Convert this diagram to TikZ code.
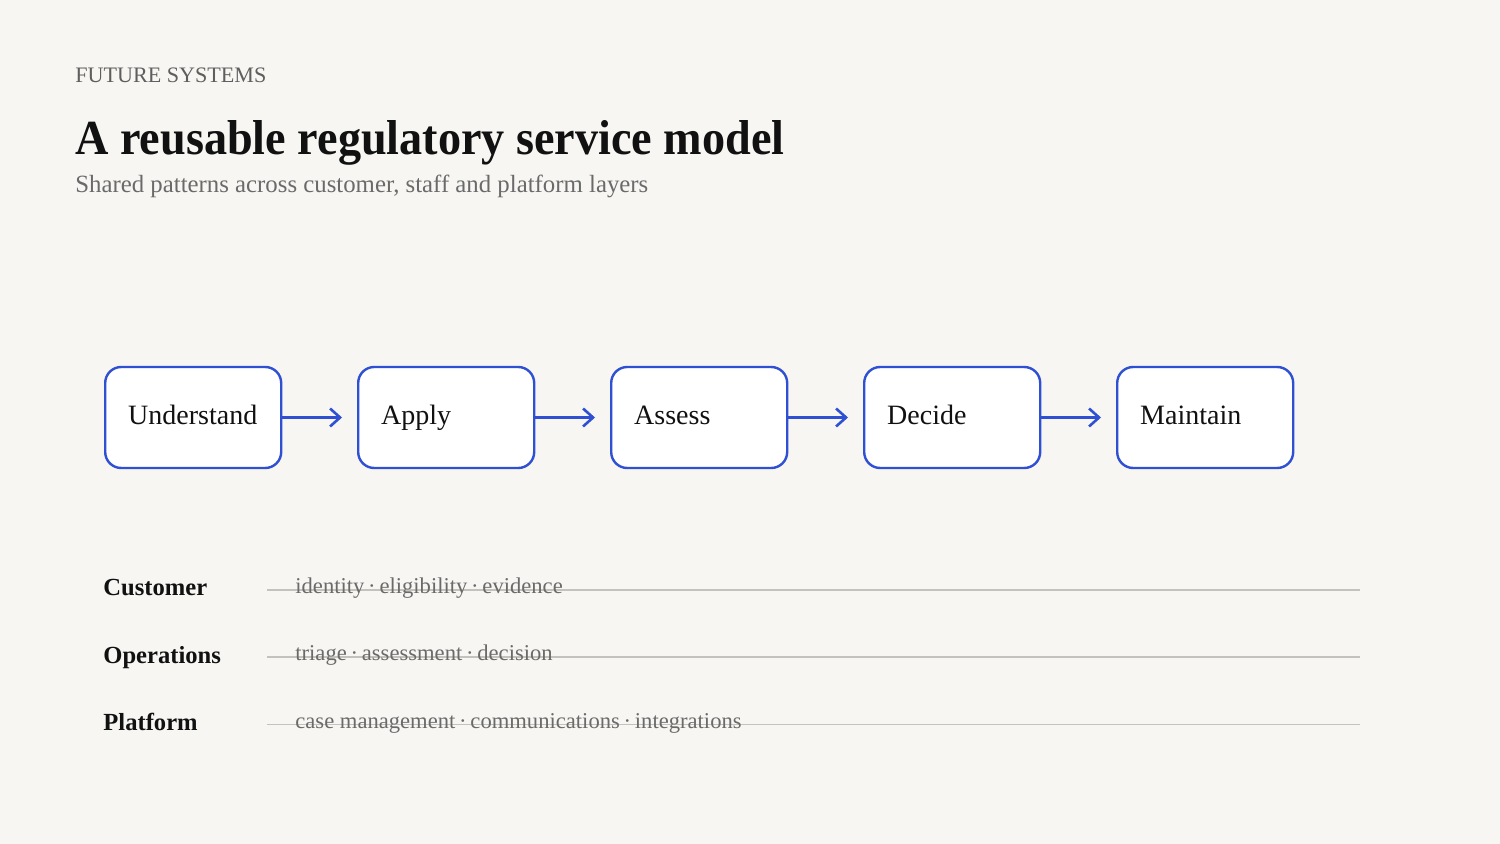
\documentclass[tikz,border=0pt]{standalone}
\usepackage{fontspec}
\usepackage{graphicx}
\setmainfont{Liberation Serif}
\usetikzlibrary{arrows.meta}
\definecolor{bg}{HTML}{F7F6F3}
\definecolor{ink}{HTML}{111111}
\definecolor{grayt}{HTML}{5E5E5E}
\definecolor{subt}{HTML}{6A6A6A}
\definecolor{rule}{HTML}{C4C2BC}
\definecolor{blu}{HTML}{2F50D2}
\tikzset{
  stagebox/.style={draw=blu, line width=1.2pt, fill=white, rounded corners=8pt,
    minimum width=88pt, minimum height=50.5pt, text width=65pt, inner xsep=11pt,
    align=left, text height=10pt, text depth=2.5pt, font=\fontsize{14pt}{16pt}\selectfont, text=ink},
  flow/.style={draw=blu, line width=1.3pt, -{Straight Barb[length=5pt,width=9pt,line width=1.3pt]}, shorten >=7.5pt},
  layername/.style={anchor=base west, inner sep=0pt, font=\fontsize{12.3pt}{14pt}\selectfont\bfseries, text=ink},
  layeritems/.style={anchor=base west, inner sep=0pt, font=\fontsize{11.3pt}{13pt}\selectfont, text=subt},
  layerrule/.style={draw=rule, line width=0.8pt}
}
\begin{document}
\begin{tikzpicture}[x=0.5pt,y=-0.5pt]
\fill[bg] (0,0) rectangle (1500,844);
\useasboundingbox (0,0) rectangle (1500,844);

\node[anchor=base west, inner sep=0pt, text=grayt, font=\fontsize{11.05pt}{12pt}\selectfont] (kicker) at (75,83) {FUTURE SYSTEMS};
\node[anchor=base west, inner sep=0pt, text=ink, font=\fontsize{24.5pt}{26pt}\selectfont\bfseries] (title) at (75,155) {\scalebox{0.943}[1]{A reusable regulatory service model}};
\node[anchor=base west, inner sep=0pt, text=subt, font=\fontsize{12.4pt}{14pt}\selectfont] (subtitle) at (75,193) {Shared patterns across customer, staff and platform layers};

\node[stagebox, anchor=west] (s1) at (104,417.5) {Understand};
\node[stagebox, anchor=west] (s2) at (357,417.5) {Apply};
\node[stagebox, anchor=west] (s3) at (610,417.5) {Assess};
\node[stagebox, anchor=west] (s4) at (863,417.5) {Decide};
\node[stagebox, anchor=west] (s5) at (1116,417.5) {Maintain};

\draw[flow] (s1.east) -- (s2.west);
\draw[flow] (s2.east) -- (s3.west);
\draw[flow] (s3.east) -- (s4.west);
\draw[flow] (s4.east) -- (s5.west);

\coordinate (r1a) at (267,590); \coordinate (r1b) at (1360,590);
\coordinate (r2a) at (267,657); \coordinate (r2b) at (1360,657);
\coordinate (r3a) at (267,724.5); \coordinate (r3b) at (1360,724.5);
\draw[layerrule] (r1a) -- (r1b);
\draw[layerrule] (r2a) -- (r2b);
\draw[layerrule] (r3a) -- (r3b);

\node[layername] (l1) at (103,596) {Customer};
\node[layername] (l2) at (103,663) {Operations};
\node[layername] (l3) at (103,730) {Platform};

\node[layeritems] (i1) at (295,594) {identity\,·\,eligibility\,·\,evidence};
\node[layeritems] (i2) at (295,661) {triage\,·\,assessment\,·\,decision};
\node[layeritems] (i3) at (295,728) {case management\,·\,communications\,·\,integrations};
\end{tikzpicture}
\end{document}
